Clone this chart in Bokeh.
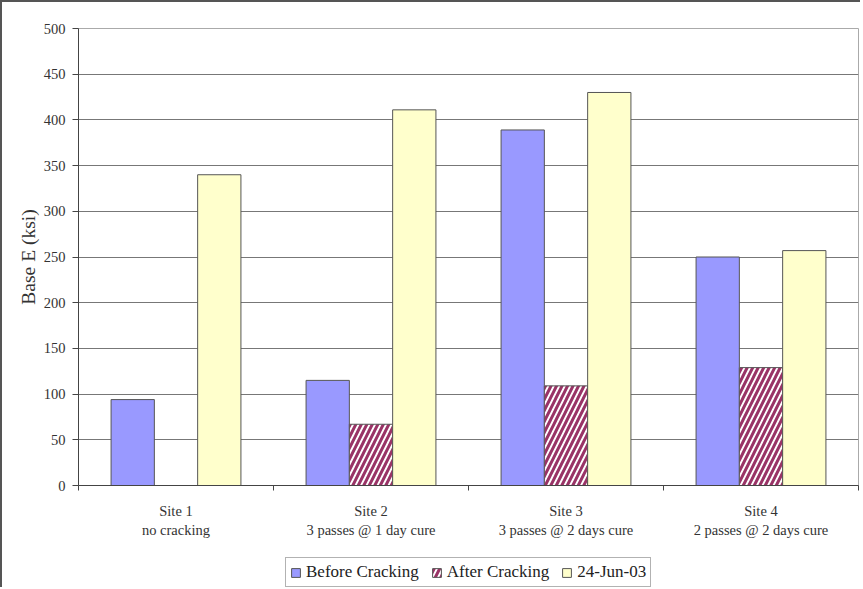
import math
from bokeh.plotting import figure
from bokeh.layouts import column
from bokeh.models import ColumnDataSource, FixedTicker, Legend, LegendItem
from bokeh.transform import dodge
from bokeh.embed import file_html
from bokeh.resources import INLINE

sites = ["Site 1\nno cracking", "Site 2\n3 passes @ 1 day cure",
         "Site 3\n3 passes @ 2 days cure", "Site 4\n2 passes @ 2 days cure"]
before_cracking = [94, 115, 389, 250]
after_cracking = [float("nan"), 67, 109, 129]
jun_24_03 = [340, 411, 430, 257]
series_names = ["Before Cracking", "After Cracking", "24-Jun-03"]
y_ticks = list(range(0, 501, 50))

centers = [i + 0.5 for i in range(len(sites))]
src = ColumnDataSource(dict(x=centers, before=before_cracking,
                            after=after_cracking, jun=jun_24_03))

FONT = "Liberation Serif"
BEFORE = dict(fill_color="#9999FF", line_color="#555555", line_width=1)
AFTER = dict(fill_color="white", line_color="#555555", line_width=1,
             hatch_pattern="/", hatch_color="#993366", hatch_scale=11, hatch_weight=3)
JUN = dict(fill_color="#FFFFCC", line_color="#555555", line_width=1)

p = figure(width=858, height=548, x_range=(0, len(sites)), y_range=(0, 500),
           output_backend="svg", toolbar_location=None,
           min_border_left=76, min_border_right=2, min_border_top=26,
           min_border_bottom=65)

w = 0.222
p.vbar(x=dodge("x", -w, range=p.x_range), top="before", width=w, source=src, **BEFORE)
p.vbar(x="x", top="after", width=w, source=src, **AFTER)
p.vbar(x=dodge("x", w, range=p.x_range), top="jun", width=w, source=src, **JUN)

# axes
p.xaxis.ticker = FixedTicker(ticks=centers, minor_ticks=list(range(len(sites) + 1)))
p.xaxis.major_label_overrides = {c: s for c, s in zip(centers, sites)}
p.xaxis.major_tick_out = 0
p.xaxis.major_tick_in = 0
p.xaxis.minor_tick_out = 5
p.xaxis.minor_tick_in = 0
p.xaxis.major_label_text_font = FONT
p.xaxis.major_label_text_font_size = "14.5px"
p.xaxis.major_label_text_color = "#333333"
p.xaxis.major_label_standoff = 12
p.xaxis.axis_line_color = "#444444"
p.xaxis.minor_tick_line_color = "#444444"

p.yaxis.ticker = FixedTicker(ticks=y_ticks)
p.yaxis.minor_tick_line_color = None
p.yaxis.major_tick_out = 6
p.yaxis.major_tick_in = 0
p.yaxis.major_label_text_font = FONT
p.yaxis.major_label_text_font_size = "14.5px"
p.yaxis.major_label_text_color = "#333333"
p.yaxis.major_label_standoff = 7
p.yaxis.axis_line_color = "#444444"
p.yaxis.major_tick_line_color = "#444444"
p.yaxis.axis_label = "Base E (ksi)"
p.yaxis.axis_label_text_font = FONT
p.yaxis.axis_label_text_font_size = "19.5px"
p.yaxis.axis_label_text_font_style = "normal"
p.yaxis.axis_label_text_color = "#333333"
p.yaxis.axis_label_standoff = 2

p.xgrid.grid_line_color = None
p.ygrid.grid_line_color = "#777777"
p.ygrid.grid_line_width = 1.2
p.outline_line_color = "#aaaaaa"

# legend strip (its frame is aligned with the main frame, starting at x=80)
lf = figure(width=858, height=37, x_range=(0, 1), y_range=(0, 1),
            output_backend="svg", toolbar_location=None,
            x_axis_type=None, y_axis_type=None,
            min_border_left=0, min_border_right=0, min_border_top=0, min_border_bottom=0)
lf.grid.visible = False
lf.outline_line_color = None
dummy = ColumnDataSource(dict(x=[-10.0], top=[-10.0]))
l1 = lf.vbar(x="x", top="top", width=0.1, source=dummy, **BEFORE)
l2 = lf.vbar(x="x", top="top", width=0.1, source=dummy, **AFTER)
l3 = lf.vbar(x="x", top="top", width=0.1, source=dummy, **JUN)
legend = Legend(items=[LegendItem(label=series_names[0], renderers=[l1]),
                       LegendItem(label=series_names[1], renderers=[l2]),
                       LegendItem(label=series_names[2], renderers=[l3])],
                orientation="horizontal", location=(207, 0),
                label_text_font=FONT, label_text_font_size="17px",
                label_text_color="#222222",
                glyph_width=11, glyph_height=11, label_standoff=5, spacing=12,
                padding=4, margin=0, label_height=16,
                border_line_color="#666666", background_fill_alpha=1)
lf.add_layout(legend, "center")

layout = column(p, lf, spacing=0,
                styles={"border-top": "2px solid #555", "border-left": "2px solid #555"})

open("out.html", "w").write(file_html(layout, INLINE))
